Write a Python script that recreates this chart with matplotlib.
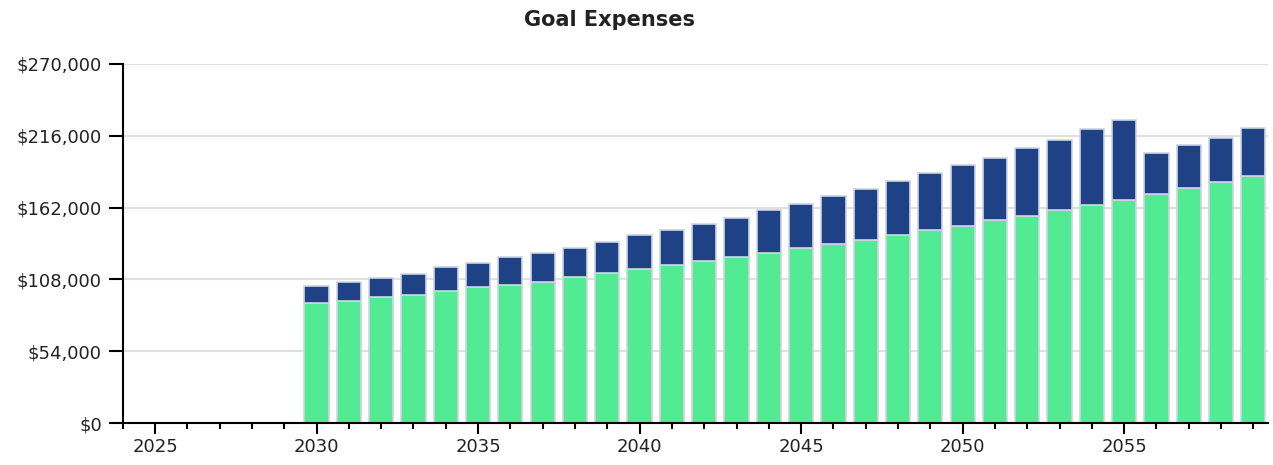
import matplotlib
matplotlib.use("Agg")
import matplotlib.pyplot as plt
from matplotlib.ticker import FuncFormatter, MultipleLocator

years = list(range(2030, 2060))

# lower (green) part of each bar
base_expenses = [90500, 92000, 94800, 96300, 99300, 102300, 103800, 106400,
                 109800, 113000, 115800, 118800, 121700, 124800, 128200,
                 131400, 134400, 137400, 141600, 144900, 147900, 152500,
                 155500, 160000, 164200, 167500, 172000, 176500, 181000,
                 185500]

# upper (blue) part stacked on top
extra_expenses = [12800, 14100, 14500, 15800, 17800, 17700, 20800, 21200,
                  22000, 23300, 25600, 26500, 28200, 29600, 32000, 33500,
                  36600, 38400, 40200, 42900, 45900, 47100, 51600, 53100,
                  56700, 60600, 30800, 32300, 33500, 36600]

y_ticks = [0, 54000, 108000, 162000, 216000, 270000]

green = "#52eb93"
blue = "#1f4287"
edge = "#cdd5e3"
text_col = "#222222"

fig = plt.figure(figsize=(12.73, 4.65), dpi=100)
ax = fig.add_axes([0.0964, 0.0903, 0.8996, 0.7721])

ax.bar(years, base_expenses, width=0.75, color=green, edgecolor=edge,
       linewidth=1.2, zorder=3)
ax.bar(years, extra_expenses, width=0.75, bottom=base_expenses, color=blue,
       edgecolor=edge, linewidth=1.2, zorder=3)

ax.set_ylim(0, 270000)
ax.set_xlim(2024, 2059.45)
ax.set_yticks(y_ticks)
ax.yaxis.set_major_formatter(FuncFormatter(lambda v, p: "${:,.0f}".format(v)))
ax.xaxis.set_major_locator(MultipleLocator(5))
ax.xaxis.set_minor_locator(MultipleLocator(1))

ax.grid(axis="y", color="#e0e0e0", linewidth=1.5, zorder=0)
ax.set_axisbelow(True)

for s in ["top", "right"]:
    ax.spines[s].set_visible(False)
for s in ["left", "bottom"]:
    ax.spines[s].set_linewidth(1.5)
    ax.spines[s].set_color("black")
    ax.spines[s].set_zorder(4)

ax.tick_params(axis="y", length=10, width=1.5, pad=5, labelsize=13,
               labelcolor=text_col)
ax.tick_params(axis="x", which="major", length=8, width=1.5, pad=3,
               labelsize=13, labelcolor=text_col)
ax.tick_params(axis="x", which="minor", length=4, width=1.5)

fig.text(0.479, 0.957, "Goal Expenses", ha="center", va="center",
         fontsize=15, fontweight="bold", color=text_col)

fig.savefig("out.png", dpi=100)
